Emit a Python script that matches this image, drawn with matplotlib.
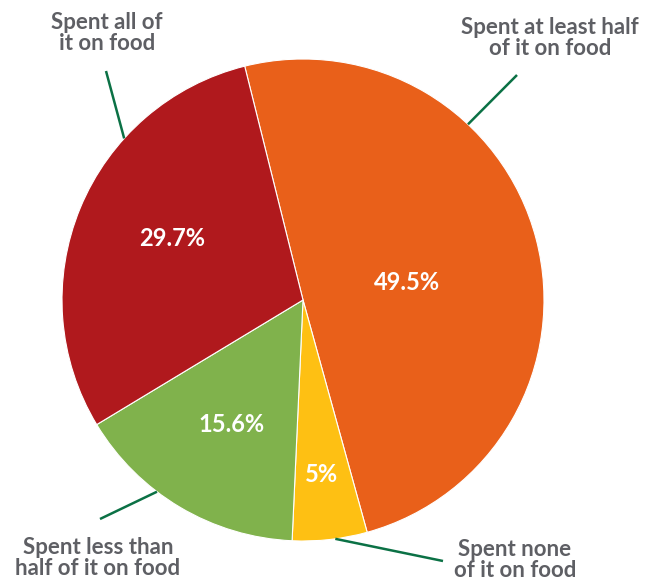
import matplotlib.pyplot as plt
import numpy as np

categories = ["Spent at least half\nof it on food", "Spent none\nof it on food",
              "Spent less than\nhalf of it on food", "Spent all of\nit on food"]
shares = [49.5, 5.0, 15.6, 29.7]
pct_labels = ["49.5%", "5%", "15.6%", "29.7%"]
colors = ["#E9601A", "#FEC013", "#80B24C", "#B0191D"]

W, H = 660, 582
cx, cy, R = 303, H - 300, 241

fig = plt.figure(figsize=(6.6, 5.82), dpi=100)
ax = fig.add_axes([0, 0, 1, 1])

wedges, _ = ax.pie(shares, colors=colors, startangle=104, counterclock=False,
                   center=(cx, cy), radius=R, frame=True,
                   wedgeprops=dict(edgecolor="white", linewidth=0.8))
ax.set_xlim(0, W)
ax.set_ylim(0, H)
ax.set_aspect("equal")
ax.axis("off")

# percent labels inside (image pixel coords)
pct_pos = [(407, 283), (322, 474), (232, 425), (172, 238)]
for (x, y), t in zip(pct_pos, pct_labels):
    ax.text(x, H - y, t, color="white", fontsize=17, fontweight="bold",
            family="Lato", ha="center", va="center")

# leader lines: angle on the rim -> outer end
rim_angles = [46.8, -82.3, 232.7, 137.9]
outer_ends = [(517, 75), (443, 561), (100, 519), (106, 71)]
for a, (x, y) in zip(rim_angles, outer_ends):
    px = cx + R * np.cos(np.radians(a))
    py = cy + R * np.sin(np.radians(a))
    ax.plot([px, x], [py, H - y], color="#0B7145", lw=1.8, solid_capstyle="butt")

# outside category labels
cat_pos = [(550, 38), (515, 560), (98, 558), (107, 33)]
for (x, y), t in zip(cat_pos, categories):
    ax.text(x, H - y, t, color="#5E5F64", fontsize=16, fontweight="bold",
            family="Lato", ha="center", va="center", linespacing=1.05)

fig.savefig("out.png", dpi=100)
